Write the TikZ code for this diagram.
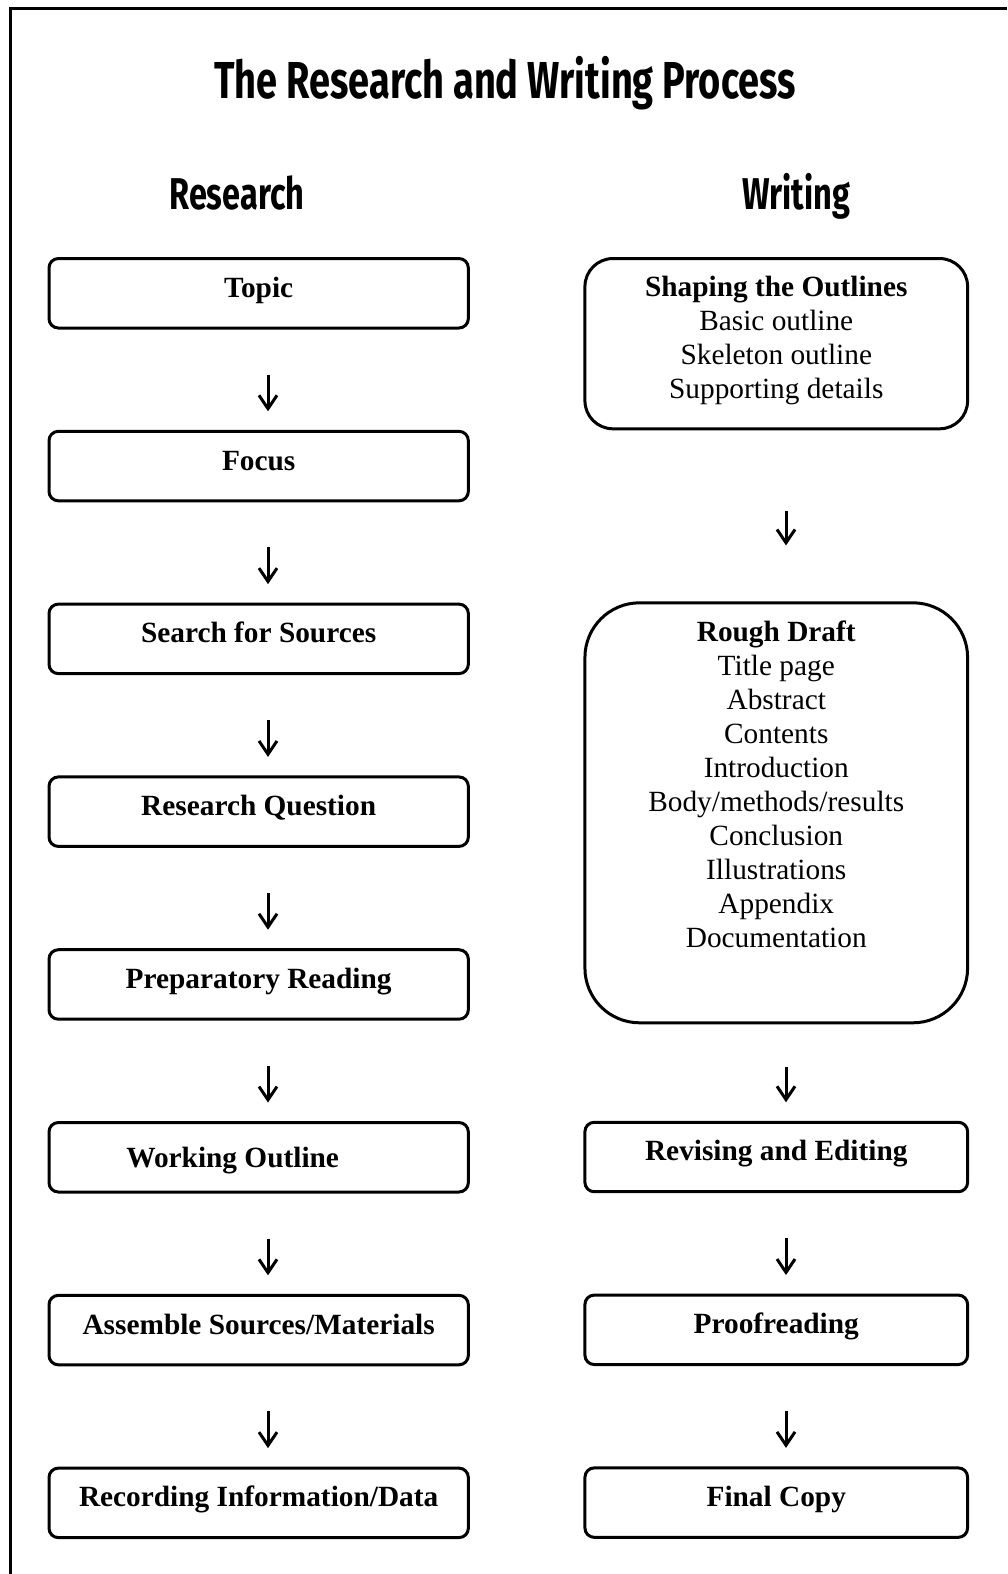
\documentclass[tikz,border=0pt]{standalone}
\usepackage{fontspec}
\setmainfont{Liberation Serif}
\newfontfamily\titlefont[FakeStretch=0.73]{Fira Sans}
\usepackage{tikz}
\usetikzlibrary{positioning, arrows.meta}
\tikzstyle{stage} = [rectangle, rounded corners=7pt, minimum width=314.5pt, inner sep=0pt, outer sep=0pt, text height=29pt, text depth=23.1pt, draw=black, line width=2.25pt, font=\bfseries\fontsize{22pt}{25.5pt}\selectfont]
\tikzstyle{writing} = [stage, minimum width=287pt]
\tikzstyle{heading} = [anchor=base, inner sep=0pt, font=\titlefont\bfseries\fontsize{33.4pt}{36pt}\selectfont]
\tikzstyle{arrow} = [line width=2.25pt, -{Straight Barb[length=10pt,width=13.5pt]}, shorten <=35pt, shorten >=15pt]

\begin{document}
\begin{tikzpicture}
			[node distance=77.5pt,nodes={align=center}]
			\useasboundingbox (0pt,0pt) rectangle (755.25pt,-1180.5pt);
			\draw [line width=2.5pt] (7.7pt,-1180.5pt) -- (7.7pt,-6.25pt) -- (755.25pt,-6.25pt);
			\node (title) [heading, font=\titlefont\bfseries\fontsize{39pt}{42pt}\selectfont] at (378.8pt,-73.8pt) {The Research and Writing Process};
			\node (research) [heading] at (177.7pt,-156.75pt) {Research};
			\node (writing) [heading] at (597pt,-156.75pt) {Writing};
			% research column
			\node (topic) [stage, anchor=north] at (194pt,-193.9pt) {Topic};
			\node (focus) [stage, below=of topic] {Focus};
			\node (search) [stage, below=of focus] {Search for Sources};
			\node (question) [stage, below=of search] {Research Question};
			\node (reading) [stage, below=of question] {Preparatory Reading};
			\node (working) [stage, below=of reading, text height=34pt, text depth=18.1pt] {Working Outline\hspace*{39pt}};
			\node (assemble) [stage, below=of working] {Assemble Sources/Materials};
			\node (recording) [stage, below=of assemble] {Recording Information/Data};
			% writing column
			\node (shaping) [writing, anchor=north, rounded corners=21pt, text height=105pt, text depth=22.7pt, font=\fontsize{22pt}{25.5pt}\selectfont] at (582.2pt,-193.9pt) {\textbf{Shaping the Outlines}\\Basic outline\\Skeleton outline\\Supporting details};
			\node (rough) [writing, below=130.5pt of shaping, rounded corners=41pt, text height=258.5pt, text depth=56.5pt, font=\fontsize{22pt}{25.5pt}\selectfont] {\textbf{Rough Draft}\\Title page\\Abstract\\Contents\\Introduction\\Body/methods/results\\Conclusion\\Illustrations\\Appendix\\Documentation};
			\node (revising) [writing, below=74.6pt of rough] {Revising and Editing};
			\node (proof) [writing, below=of revising] {Proofreading};
			\node (final) [writing, below=of proof] {Final Copy};
			\draw [arrow] ([xshift=7pt]topic.south) -- ([xshift=7pt]focus.north);
			\draw [arrow] ([xshift=7pt]focus.south) -- ([xshift=7pt]search.north);
			\draw [arrow] ([xshift=7pt]search.south) -- ([xshift=7pt]question.north);
			\draw [arrow] ([xshift=7pt]question.south) -- ([xshift=7pt]reading.north);
			\draw [arrow] ([xshift=7pt]reading.south) -- ([xshift=7pt]working.north);
			\draw [arrow] ([xshift=7pt]working.south) -- ([xshift=7pt]assemble.north);
			\draw [arrow] ([xshift=7pt]assemble.south) -- ([xshift=7pt]recording.north);
			\draw [arrow, shorten <=61.3pt, shorten >=43pt] ([xshift=7.3pt]shaping.south) -- ([xshift=7.3pt]rough.north);
			\draw [arrow, shorten <=33.5pt] ([xshift=7.3pt]rough.south) -- ([xshift=7.3pt]revising.north);
			\draw [arrow] ([xshift=7.3pt]revising.south) -- ([xshift=7.3pt]proof.north);
			\draw [arrow] ([xshift=7.3pt]proof.south) -- ([xshift=7.3pt]final.north);
		\end{tikzpicture}
\end{document}
